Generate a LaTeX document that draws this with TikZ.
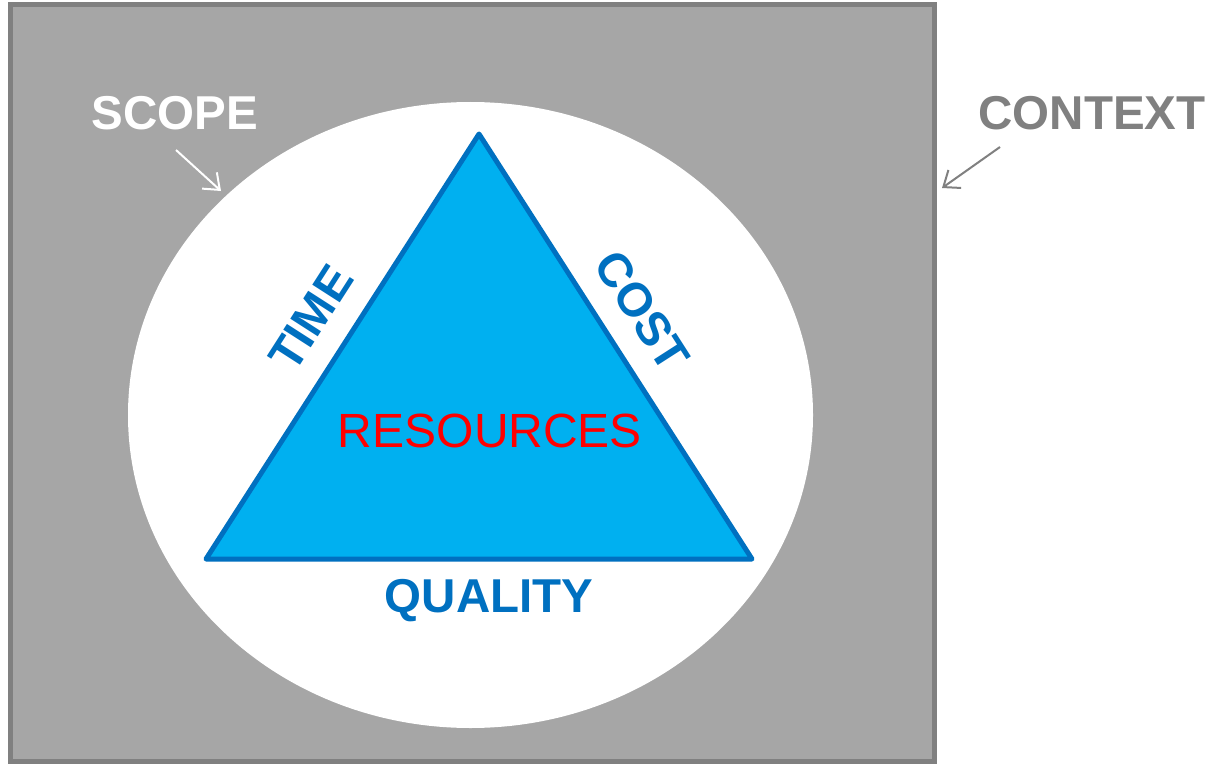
\documentclass[tikz,border=0pt]{standalone}
\usepackage{fontspec}
\setmainfont{Liberation Sans}
\usetikzlibrary{arrows.meta, shapes.geometric}
\definecolor{ctxgray}{HTML}{A6A6A6}
\definecolor{ctxline}{HTML}{808080}
\definecolor{triblue}{HTML}{00B0F0}
\definecolor{darkblue}{HTML}{0070C0}
\tikzset{
	biglabel/.style={font=\fontsize{47.5}{47.5}\selectfont\bfseries, inner sep=0pt},
	pointer/.style={-{Straight Barb[length=14pt, width=22pt]}, line width=2pt}
}
\begin{document}
\begin{tikzpicture}[x=1pt, y=-1pt]
				
				\useasboundingbox[fill=white] (0,0) rectangle (1212,765);
				
				\draw[line width=5pt, draw=ctxline, fill=ctxgray] (10.5,4.5) rectangle (934.5,761.5);
				
				\node[ellipse, draw=none, fill=white, minimum width=685pt, minimum height=626pt, inner sep=0pt] (scope) at (470.5,415) {};
				
				\draw[line width=5pt, draw=darkblue, fill=triblue, line join=round] (479,134) -- (752,559) -- (206,559) -- cycle;
				
				\node[biglabel, text=white] (scopelabel) at (175,113) {SCOPE};
				
				\node[biglabel, text=ctxline] (contextlabel) at (1092,113) {CONTEXT};
				
				\node[biglabel, text=darkblue, rotate=57.3] (time) at (311,318) {TIME};
				
				\node[biglabel, text=darkblue, rotate=-57.3] (cost) at (642,311) {COST};
				
				\node[biglabel, text=darkblue] (quality) at (489,601) {QUALITY};
				
				\node[font=\fontsize{48}{48}\selectfont, text=red, inner sep=0pt] (resources) at (490,431) {RESOURCES};
				
				\coordinate (scopetip) at (221,191);
				\coordinate (scopetail) at (176,150);
				\coordinate (contexttip) at (942,188);
				\coordinate (contexttail) at (1000,147);
				
				\draw[pointer, white] (scopetail) -- (scopetip);
				
				\draw[pointer, ctxline] (contexttail) -- (contexttip);
				
				\end{tikzpicture}
\end{document}
